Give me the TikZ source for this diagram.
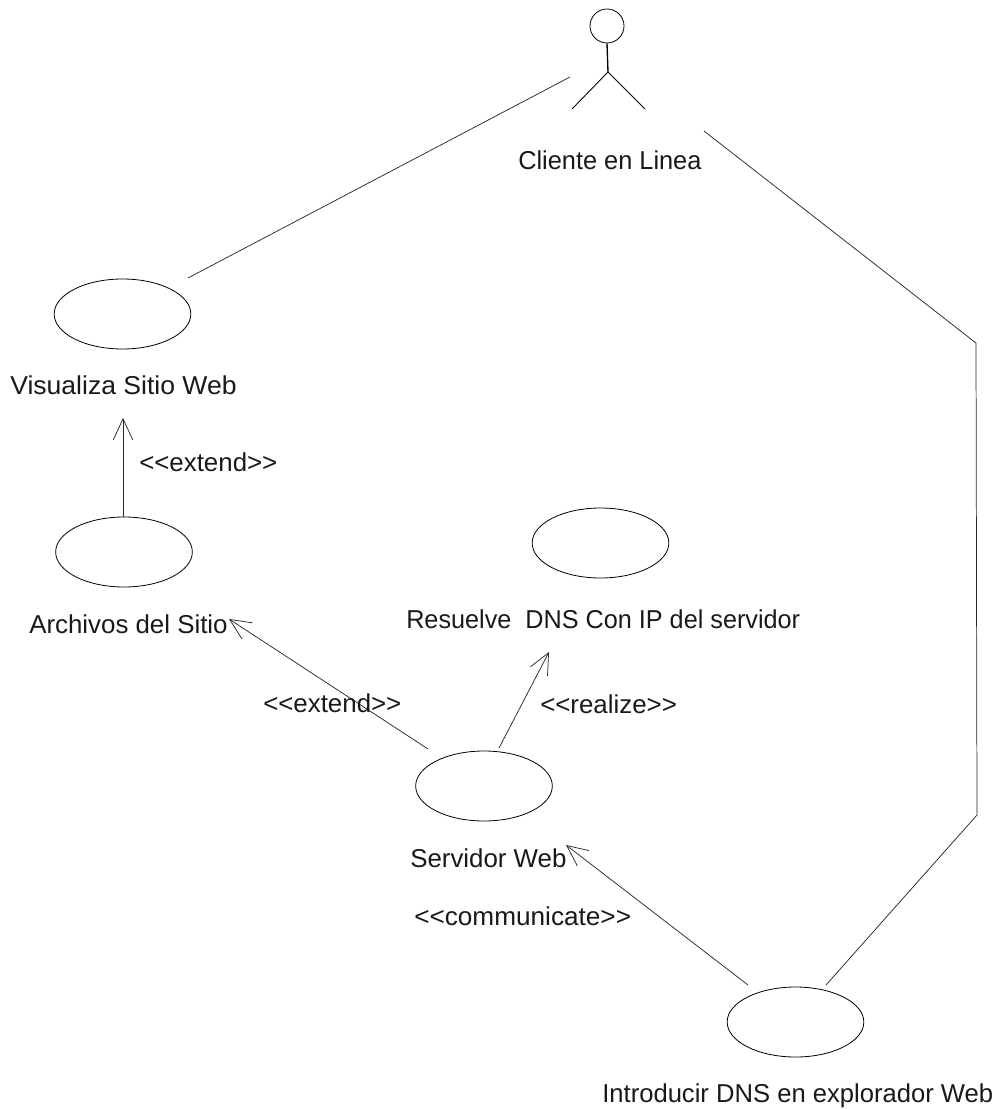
\documentclass[tikz,border=0pt]{standalone}
\usepackage{fontspec}
\setmainfont{Liberation Sans}
\usetikzlibrary{shapes.geometric,arrows.meta}
\tikzset{
 usecase/.style={draw,ellipse,line width=0.6pt,minimum width=102.5pt,minimum height=52.5pt,inner sep=0pt},
 lbl/.style={inner sep=0pt,anchor=base west,font=\fontsize{19.4pt}{23pt}\selectfont,text=black!90},
 link/.style={line width=0.55pt,black!85},
 dep/.style={line width=0.55pt,black!85,-{Straight Barb[length=15.7pt,width=14.5pt,line width=0.55pt]}},
}
\begin{document}
\begin{tikzpicture}[x=0.75pt,y=-0.75pt]
\useasboundingbox (0,0) rectangle (997,1109);
% actor
\node[draw,circle,line width=0.6pt,minimum size=25.5pt,inner sep=0pt] (head) at (607,26) {};
\coordinate (hip) at (608,72);
\coordinate (lfoot) at (572,109);
\coordinate (rfoot) at (645,109);
\draw[line width=1pt] (head.south) -- (hip);
\draw[line width=0.65pt] (lfoot) -- (hip) -- (rfoot);
% use cases
\node[usecase] (visualiza) at (122.5,314) {};
\node[usecase] (archivos) at (124,552) {};
\node[usecase] (resuelve) at (600.5,543) {};
\node[usecase] (servidor) at (484,786) {};
\node[usecase] (introducir) at (795.5,1022) {};
% connector ends
\coordinate (a1) at (570,77);
\coordinate (v1) at (188,278);
\coordinate (a2) at (704,131);
\coordinate (b1) at (976,343);
\coordinate (b2) at (977,815);
\coordinate (i1) at (826,985);
\coordinate (i2) at (748,985);
\coordinate (s0) at (566,845);
\coordinate (s1) at (428,749);
\coordinate (s2) at (499,748);
\coordinate (r0) at (549,652);
\coordinate (ar0) at (229,619);
\coordinate (ar1) at (123,517);
\coordinate (v0) at (123,418);
% connectors
\draw[link] (a1) -- (v1);
\draw[link] (a2) -- (b1) -- (b2) -- (i1);
\draw[dep] (ar1) -- (v0);
\draw[dep] (s1) -- (ar0);
\draw[dep] (s2) -- (r0);
\draw[dep] (i2) -- (s0);
% labels
\node[lbl] (tcliente) at (518,170) {\scalebox{.98}[1]{Cliente en Linea}};
\node[lbl] (tvis) at (10,394) {\scalebox{1.027}[1]{Visualiza Sitio Web}};
\node[lbl] (text1) at (139,471) {<{}<extend>{}>};
\node[lbl] (tarch) at (29,633) {Archivos del Sitio};
\node[lbl] (tres) at (406,628) {\scalebox{.975}[1]{Resuelve\ \ DNS Con IP del servidor}};
\node[lbl] (text2) at (263,712) {<{}<extend>{}>};
\node[lbl] (treal) at (540,713) {<{}<realize>{}>};
\node[lbl] (tserv) at (410,867) {Servidor Web};
\node[lbl] (tcomm) at (414,925) {\scalebox{1.012}[1]{<{}<communicate>{}>}};
\node[lbl] (tintro) at (602,1102) {\scalebox{.99}[1]{Introducir DNS en explorador Web}};
\end{tikzpicture}
\end{document}
